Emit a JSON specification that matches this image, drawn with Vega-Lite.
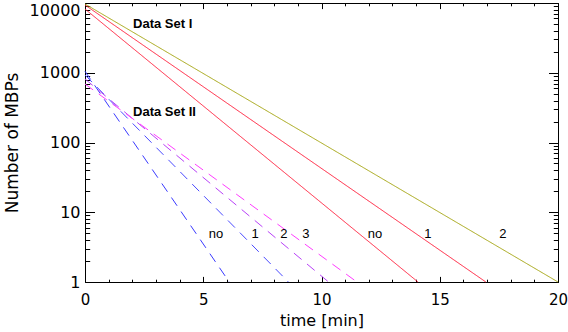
{
  "$schema": "https://vega.github.io/schema/vega-lite/v6.json",
  "width": 473,
  "height": 279,
  "autosize": {"type": "none"},
  "padding": {"left": 85, "top": 3, "right": 10, "bottom": 50},
  "background": "white",
  "config": {
    "view": {"stroke": "black", "strokeWidth": 1},
    "axis": {"domain": false, "grid": false, "tickColor": "black", "labelColor": "black", "titleColor": "black", "labelFont": "DejaVu Sans", "titleFont": "DejaVu Sans", "titleFontWeight": "normal", "labelFlush": false, "labelOverlap": false}
  },
  "datasets": {
    "lines": [
      {"series": "I-no", "set": "I", "t": 0, "n": 8200}, {"series": "I-no", "set": "I", "t": 14.08, "n": 1},
      {"series": "I-1", "set": "I", "t": 0, "n": 9360}, {"series": "I-1", "set": "I", "t": 16.95, "n": 1},
      {"series": "I-2", "set": "I", "t": 0, "n": 9680}, {"series": "I-2", "set": "I", "t": 20, "n": 1},
      {"series": "II-no", "set": "II", "t": 0, "n": 1050}, {"series": "II-no", "set": "II", "t": 6.1, "n": 1},
      {"series": "II-1", "set": "II", "t": 0, "n": 930}, {"series": "II-1", "set": "II", "t": 8.6, "n": 1},
      {"series": "II-2", "set": "II", "t": 0, "n": 815}, {"series": "II-2", "set": "II", "t": 10.3, "n": 1},
      {"series": "II-3", "set": "II", "t": 0, "n": 690}, {"series": "II-3", "set": "II", "t": 11.5, "n": 1}
    ],
    "bold": [
      {"x": 2.03, "y": 5000, "label": "Data Set I"},
      {"x": 2.03, "y": 270, "label": "Data Set II"}
    ],
    "plain": [
      {"x": 5.54, "y": 4.8, "label": "no"},
      {"x": 7.19, "y": 4.8, "label": "1"},
      {"x": 8.41, "y": 4.8, "label": "2"},
      {"x": 9.34, "y": 4.8, "label": "3"},
      {"x": 12.26, "y": 4.8, "label": "no"},
      {"x": 14.5, "y": 4.8, "label": "1"},
      {"x": 17.67, "y": 4.8, "label": "2"}
    ]
  },
  "layer": [
    {
      "data": {"name": "lines"},
      "mark": {"type": "line", "strokeWidth": 1},
      "encoding": {
        "x": {"field": "t", "type": "quantitative", "scale": {"domain": [0, 20], "nice": false, "zero": false},
          "axis": {"orient": "bottom", "values": [0, 5, 10, 15, 20], "tickSize": -5.6, "labelPadding": 16, "labelFontSize": 15, "title": "time [min]", "titleFontSize": 16, "titlePadding": 5}},
        "y": {"field": "n", "type": "quantitative", "scale": {"type": "log", "domain": [1, 10000], "nice": false},
          "axis": {"orient": "left", "values": [1, 10, 100, 1000], "format": "d", "tickSize": -9.5, "labelPadding": 14.5, "labelFontSize": 16, "title": "Number of MBPs", "titleFontSize": 17, "titlePadding": 18}},
        "color": {"field": "series", "type": "nominal", "legend": null,
          "scale": {"domain": ["I-no", "I-1", "I-2", "II-no", "II-1", "II-2", "II-3"], "range": ["#ff1f3c", "#ff1f3c", "#a6a612", "#3a3aff", "#4a4aff", "#b840f8", "#ff3cff"]}},
        "strokeDash": {"field": "set", "type": "nominal", "legend": null, "scale": {"domain": ["I", "II"], "range": [[1, 0], [10, 7]]}}
      }
    },
    {
      "data": {"name": "lines"},
      "mark": {"type": "line", "opacity": 0},
      "encoding": {
        "x": {"field": "t", "type": "quantitative",
          "axis": {"orient": "bottom", "values": [0,1,2,3,4,5,6,7,8,9,10,11,12,13,14,15,16,17,18,19,20], "tickSize": -2.8, "labels": false, "title": null}},
        "y": {"field": "n", "type": "quantitative",
          "axis": {"orient": "left", "values": [2,3,4,5,6,7,8,9,20,30,40,50,60,70,80,90,200,300,400,500,600,700,800,900,2000,3000,4000,5000,6000,7000,8000,9000], "tickSize": -4.7, "labels": false, "title": null}},
        "detail": {"field": "series"}
      }
    },
    {
      "data": {"name": "lines"},
      "mark": {"type": "line", "opacity": 0},
      "encoding": {
        "x": {"field": "t", "type": "quantitative",
          "axis": {"orient": "top", "values": [0, 5, 10, 15, 20], "tickSize": -5.6, "labels": false, "title": null}},
        "y": {"field": "n", "type": "quantitative",
          "axis": {"orient": "right", "values": [1, 10, 100, 1000, 10000], "tickSize": -9.5, "labels": false, "title": null}},
        "detail": {"field": "series"}
      }
    },
    {
      "data": {"name": "lines"},
      "mark": {"type": "line", "opacity": 0},
      "encoding": {
        "x": {"field": "t", "type": "quantitative",
          "axis": {"orient": "top", "values": [0,1,2,3,4,5,6,7,8,9,10,11,12,13,14,15,16,17,18,19,20], "tickSize": -2.8, "labels": false, "title": null}},
        "y": {"field": "n", "type": "quantitative",
          "axis": {"orient": "right", "values": [2,3,4,5,6,7,8,9,20,30,40,50,60,70,80,90,200,300,400,500,600,700,800,900,2000,3000,4000,5000,6000,7000,8000,9000], "tickSize": -4.7, "labels": false, "title": null}},
        "detail": {"field": "series"}
      }
    },
    {
      "data": {"name": "lines"},
      "mark": {"type": "line", "opacity": 0},
      "encoding": {
        "x": {"field": "t", "type": "quantitative", "axis": null},
        "y": {"field": "n", "type": "quantitative",
          "axis": {"orient": "left", "values": [10000], "format": "d", "tickSize": -9.5, "labelPadding": 14.5, "labelFontSize": 16, "labelBaseline": "top", "labelOffset": -1, "title": null}},
        "detail": {"field": "series"}
      }
    },
    {
      "data": {"name": "bold"},
      "mark": {"type": "text", "align": "left", "baseline": "middle", "font": "Liberation Sans", "fontWeight": "bold", "fontSize": 13, "color": "black"},
      "encoding": {
        "x": {"field": "x", "type": "quantitative", "axis": null},
        "y": {"field": "y", "type": "quantitative", "axis": null},
        "text": {"field": "label"}
      }
    },
    {
      "data": {"name": "plain"},
      "mark": {"type": "text", "align": "center", "baseline": "middle", "font": "Liberation Sans", "fontSize": 13, "color": "black"},
      "encoding": {
        "x": {"field": "x", "type": "quantitative", "axis": null},
        "y": {"field": "y", "type": "quantitative", "axis": null},
        "text": {"field": "label"}
      }
    }
  ],
  "resolve": {"axis": {"x": "independent", "y": "independent"}}
}
